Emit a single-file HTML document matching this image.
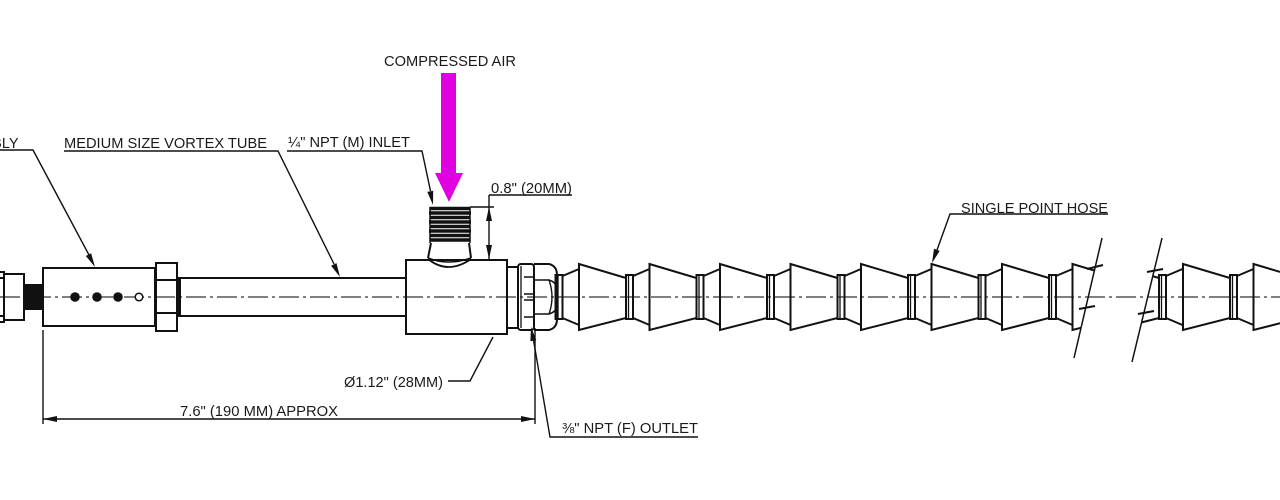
<!DOCTYPE html>
<html><head><meta charset="utf-8"><style>
html,body{margin:0;padding:0;background:#fff;}
svg{display:block;}
text{font-family:"Liberation Sans",Arial,sans-serif;font-size:14.5px;fill:#1a1a1a;}
</style></head><body>
<svg width="1280" height="500" viewBox="0 0 1280 500" xmlns="http://www.w3.org/2000/svg">
<defs>
<clipPath id="cl"><polygon points="0,0 1157.5,0 1040.9,500 0,500"/></clipPath>
<clipPath id="cr"><polygon points="1219.6,0 1280,0 1280,500 1098.6,500"/></clipPath>
<g id="seg" fill="none" stroke="#111" stroke-width="2">
  <path d="M0,264 L47,278 L47,318 L0,330 Z"/>
  <rect x="47" y="275" width="7" height="44"/>
  <line x1="49.5" y1="275" x2="49.5" y2="319" stroke-width="1.3"/>
  <path d="M54,276 L70.5,269 M54,318 L70.5,325"/>
</g>
<g id="segr" fill="none" stroke="#111" stroke-width="2">
  <rect x="47" y="275" width="7" height="44"/>
  <line x1="49.5" y1="275" x2="49.5" y2="319" stroke-width="1.3"/>
  <path d="M54,276 L70.5,269 M54,318 L70.5,325"/>
</g>
</defs>
<rect width="1280" height="500" fill="#fff"/>

<!-- centerline -->
<line x1="0" y1="297" x2="1280" y2="297" stroke="#333" stroke-width="1.2" stroke-dasharray="20 4 3 4"/>

<g fill="none" stroke="#111" stroke-width="2">
  <!-- far left fitting -->
  <rect x="-3" y="272" width="7" height="50"/>
  <line x1="0" y1="278" x2="4" y2="278"/>
  <line x1="0" y1="316" x2="4" y2="316"/>
  <rect x="4" y="274" width="20" height="46"/>
  <rect x="25" y="285" width="18" height="24" fill="#111"/>
  <!-- muffler -->
  <rect x="43" y="268" width="112" height="58"/>
  <!-- hex nut -->
  <rect x="156" y="263" width="21" height="68"/>
  <line x1="156" y1="280" x2="177" y2="280"/>
  <line x1="156" y1="313" x2="177" y2="313"/>
  <rect x="177" y="278" width="3" height="38" fill="#111"/>
  <!-- tube -->
  <line x1="180" y1="278" x2="406" y2="278"/>
  <line x1="180" y1="316" x2="406" y2="316"/>
  <!-- T body -->
  <rect x="406" y="260" width="101" height="74"/>
  <!-- inlet nipple neck and saddle -->
  <path d="M431,243 L428,258 M469,243 L471,258"/>
  <path d="M428,258 Q448,266 471,258" stroke-width="1.6"/>
  <path d="M428,259 Q448,275 471,259" stroke-width="1.8"/>
  <!-- outlet fitting -->
  <rect x="507" y="267" width="11" height="61"/>
  <rect x="518" y="264" width="16" height="66" rx="3"/>
  <line x1="521" y1="266" x2="521" y2="328" stroke-width="1.3"/>
  <path d="M524,277 H533 M524,317 H533 M524,294 H533 M524,300 H533" stroke-width="1.5"/>
  <path d="M534,264 H549 Q557,266 557,275 V319 Q557,328 549,330 H534"/>
  <path d="M534,280 H549 Q556,282 557,288 M534,314 H549 Q556,312 557,306" stroke-width="1.6"/>
  <path d="M549,280 Q555,297 549,314" stroke-width="1.4"/>
</g>
<!-- muffler holes -->
<circle cx="75" cy="297" r="4.8" fill="#111"/>
<circle cx="97" cy="297" r="4.8" fill="#111"/>
<circle cx="118" cy="297" r="4.8" fill="#111"/>
<circle cx="139" cy="297" r="3.8" fill="#fff" stroke="#111" stroke-width="1.5"/>

<!-- threads -->
<g stroke="#111" stroke-width="3.4">
  <line x1="430" y1="208.5" x2="470" y2="208.5"/>
  <line x1="429" y1="213" x2="471" y2="213"/>
  <line x1="430" y1="217.5" x2="470" y2="217.5"/>
  <line x1="429" y1="222" x2="471" y2="222"/>
  <line x1="430" y1="226.5" x2="470" y2="226.5"/>
  <line x1="429" y1="231" x2="471" y2="231"/>
  <line x1="430" y1="235.5" x2="470" y2="235.5"/>
  <line x1="430" y1="240" x2="470" y2="240"/>
</g>
<line x1="430" y1="207" x2="430" y2="243" stroke="#111" stroke-width="1.5"/>
<line x1="470" y1="207" x2="470" y2="243" stroke="#111" stroke-width="1.5"/>

<!-- hose left -->
<g clip-path="url(#cl)">
  <use href="#segr" x="508.5" y="0"/>
  <use href="#seg" x="579" y="0"/>
  <use href="#seg" x="649.5" y="0"/>
  <use href="#seg" x="720" y="0"/>
  <use href="#seg" x="790.5" y="0"/>
  <use href="#seg" x="861" y="0"/>
  <use href="#seg" x="931.5" y="0"/>
  <use href="#seg" x="1002" y="0"/>
  <use href="#seg" x="1072.5" y="0"/>
  <use href="#seg" x="1143" y="0"/>
</g>
<!-- hose right -->
<g clip-path="url(#cr)">
  <use href="#seg" x="1112" y="0"/>
  <use href="#seg" x="1183" y="0"/>
  <use href="#seg" x="1253.5" y="0"/>
</g>
<!-- break lines -->
<g stroke="#111" stroke-width="1.5" fill="none">
  <line x1="1102" y1="238" x2="1074" y2="358"/>
  <line x1="1162" y1="238" x2="1132" y2="362"/>
  <path d="M1087,269 L1103,265 M1079,309 L1095,306" stroke-width="2"/>
  <path d="M1147,272 L1163,269 M1138,314 L1154,311" stroke-width="2"/>
</g>

<!-- magenta arrow -->
<polygon points="441,73 456,73 456,173 463,173 449,202 435,173 441,173" fill="#e000e0"/>

<!-- leaders -->
<g stroke="#111" stroke-width="1.4" fill="none">
  <polyline points="0,150 33,150 89,255"/>
  <polyline points="64,151 278,151 334,264"/>
  <polyline points="287,151 422,151 430.5,191"/>
  <polyline points="1108,214 950,214 937,250"/>
  <polyline points="698,437 550,437 533.5,340"/>
  <polyline points="448,381 470,381 493,337"/>
  <!-- 0.8 dim -->
  <line x1="470" y1="207" x2="494" y2="207"/>
  <line x1="489" y1="195" x2="489" y2="259"/>
  <line x1="489" y1="195" x2="572" y2="195"/>
  <!-- 7.6 dim -->
  <line x1="43" y1="330" x2="43" y2="424"/>
  <line x1="535" y1="328" x2="535" y2="424"/>
  <line x1="43" y1="419" x2="535" y2="419"/>
</g>
<g fill="#111">
  <polygon points="95,267 85.8,256 91.1,253.2"/>
  <polygon points="340,277 331.1,265.8 336.5,263.1"/>
  <polygon points="433,205 427.3,191.9 433.2,190.7"/>
  <polygon points="932,263 934,248.8 939.7,250.9"/>
  <polygon points="531,327 536.3,340.3 530.4,341.3"/>
  <polygon points="489,207 486,221 492,221"/>
  <polygon points="489,259 486,245 492,245"/>
  <polygon points="43,419 57,416 57,422"/>
  <polygon points="535,419 521,416 521,422"/>
</g>

<!-- labels -->
<text x="384" y="66" textLength="132" lengthAdjust="spacingAndGlyphs">COMPRESSED AIR</text>
<text x="18.5" y="148" text-anchor="end">ASSEMBLY</text>
<text x="64" y="148" textLength="203" lengthAdjust="spacingAndGlyphs">MEDIUM SIZE VORTEX TUBE</text>
<text x="288" y="147" textLength="122" lengthAdjust="spacingAndGlyphs">¼" NPT (M) INLET</text>
<text x="491" y="193" textLength="81" lengthAdjust="spacingAndGlyphs">0.8" (20MM)</text>
<text x="961" y="213" textLength="147" lengthAdjust="spacingAndGlyphs">SINGLE POINT HOSE</text>
<text x="344" y="387" textLength="99" lengthAdjust="spacingAndGlyphs">Ø1.12" (28MM)</text>
<text x="180" y="416" textLength="158" lengthAdjust="spacingAndGlyphs">7.6" (190 MM) APPROX</text>
<text x="562" y="433" textLength="136" lengthAdjust="spacingAndGlyphs">⅜" NPT (F) OUTLET</text>
</svg>
</body></html>
